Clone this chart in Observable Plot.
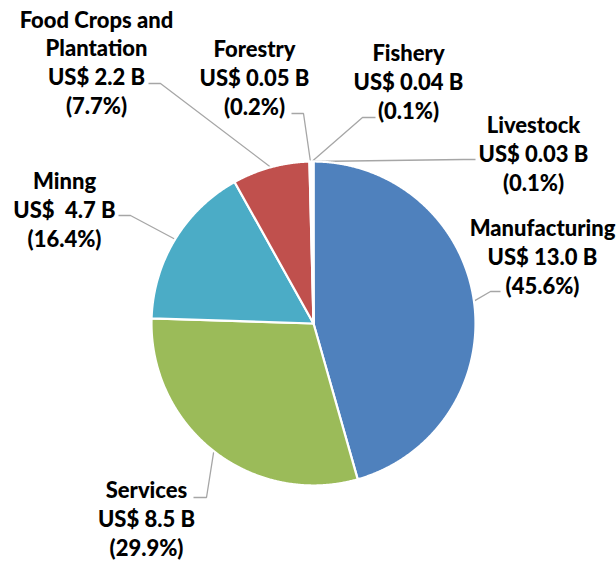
<!DOCTYPE html>
<html>
<head>
<meta charset="utf-8">
<script src="https://cdn.jsdelivr.net/npm/d3@7"></script>
<script src="https://cdn.jsdelivr.net/npm/@observablehq/plot@0.6"></script>
<style>
  html, body { margin: 0; padding: 0; background: #fff; }
  #chart svg { display: block; }
</style>
</head>
<body>
<div id="chart"></div>
<script>
// ---- data ----
const categories = ["Manufacturing", "Services", "Minng", "Food Crops and Plantation", "Forestry", "Fishery", "Livestock"];
const labelNames = ["Manufacturing", "Services", "Minng", "Food Crops and\nPlantation", "Forestry", "Fishery", "Livestock"];
const valuesB = [13.0, 8.5, 4.7, 2.2, 0.05, 0.04, 0.03];
const valueText = ["13.0", "8.5", " 4.7", "2.2", "0.05", "0.04", "0.03"];
const percents = [45.6, 29.9, 16.4, 7.7, 0.2, 0.1, 0.1];
const colors = ["#4F81BD", "#9BBB59", "#4BACC6", "#C0504D", "#8064A2", "#F79646", "#2C4D75"];

// ---- layout (pixels) ----
const W = 616, H = 561, CX = 313, CY = 323, R = 162;
const ux = px => (px - CX) / R;
const uy = py => (CY - py) / R;
// label block centre, leader elbow and leader end (pixels)
const labelLayout = [
  {tx: 542, ty: 255, ex: 490, ey: 291, hx: 500},
  {tx: 146, ty: 517, ex: 206, ey: 497, hx: 193},
  {tx: 64,  ty: 208, ex: 130, ey: 215, hx: 118},
  {tx: 96,  ty: 61,  ex: 160, ey: 83,  hx: 148},
  {tx: 254, ty: 76,  ex: 303, ey: 113, hx: 291},
  {tx: 408, ty: 80,  ex: 362, ey: 117, hx: 375},
  {tx: 533, ty: 152, ex: 463, ey: 159, hx: 475}
];

const rows = categories.map((c, i) => ({
  name: c, value: valuesB[i], pct: percents[i], color: colors[i],
  label: `${labelNames[i]}\nUS$ ${valueText[i]} B\n(${percents[i].toFixed(1)}%)`
}));

const arcs = d3.pie().sort(null).value(d => d.pct)(rows);

// slice polygons in unit-radius space (angle 0 at top, clockwise)
const slicePts = [];
arcs.forEach(a => {
  const n = Math.max(2, Math.ceil((a.endAngle - a.startAngle) / 0.005));
  slicePts.push({name: a.data.name, x: 0, y: 0});
  for (let k = 0; k <= n; k++) {
    const t = a.startAngle + (a.endAngle - a.startAngle) * k / n;
    slicePts.push({name: a.data.name, x: Math.sin(t), y: Math.cos(t)});
  }
});

// leader lines
const leaderPts = [];
arcs.forEach((a, i) => {
  const m = (a.startAngle + a.endAngle) / 2;
  const L = labelLayout[i];
  leaderPts.push({name: a.data.name, x: Math.sin(m), y: Math.cos(m)});
  leaderPts.push({name: a.data.name, x: ux(L.ex), y: uy(L.ey)});
  leaderPts.push({name: a.data.name, x: ux(L.hx), y: uy(L.ey)});
});

const labels = rows.map((r, i) => ({text: r.label, x: ux(labelLayout[i].tx), y: uy(labelLayout[i].ty)}));

const chart = Plot.plot({
  width: W, height: H,
  margin: 0,
  x: {domain: [ux(0), ux(W)], axis: null},
  y: {domain: [uy(H), uy(0)], axis: null},
  color: {domain: categories, range: colors},
  style: {background: "#fff"},
  marks: [
    Plot.line(leaderPts, {x: "x", y: "y", z: "name", stroke: "#A6A6A6", strokeWidth: 1.3, strokeLinecap: "butt", strokeLinejoin: "miter"}),
    Plot.line(slicePts, {x: "x", y: "y", z: "name", fill: "name", stroke: "white", strokeWidth: 2.2, curve: "linear-closed", strokeLinejoin: "round"}),
    Plot.text(labels, {x: "x", y: "y", text: "text", fontSize: 22, fontWeight: 900, fontFamily: "Lato", lineHeight: 1.31, fill: "black", textAnchor: "middle"})
  ]
});
document.getElementById("chart").appendChild(chart);
</script>
</body>
</html>
